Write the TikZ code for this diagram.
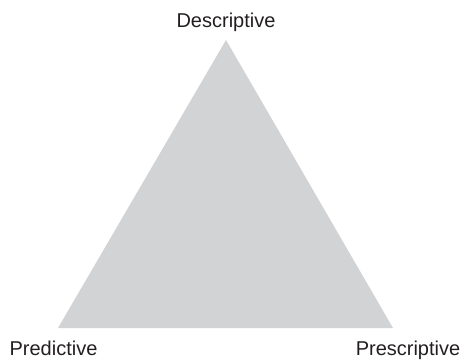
\documentclass[tikz,border=0pt]{standalone}
\usepackage{fontspec}
\setmainfont{Liberation Sans}
\definecolor{trifill}{HTML}{D1D3D4}
\definecolor{labeltext}{HTML}{231F20}
\begin{document}
\begin{tikzpicture}[x=1pt,y=-1pt,
  label/.style={anchor=base,inner sep=0pt,text=labeltext,font=\fontsize{20}{24}\selectfont}]
\useasboundingbox (0,0) rectangle (462,359);
% the three corners of the triangle
\coordinate (top) at (226,40);
\coordinate (bl) at (58,328);
\coordinate (br) at (393,328);
\fill[trifill] (top) -- (bl) -- (br) -- cycle;
% corner labels
\node[label] (desc) at (226,27) {Descriptive};
\node[label] (pred) at (53.5,355) {Predictive};
\node[label] (presc) at (408,355) {Prescriptive};
\end{tikzpicture}
\end{document}
